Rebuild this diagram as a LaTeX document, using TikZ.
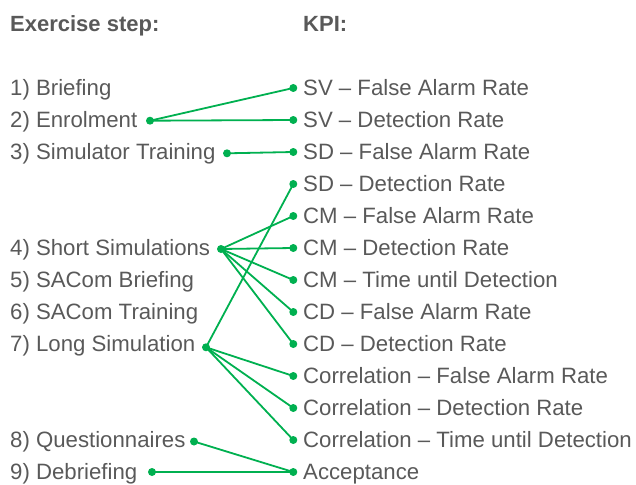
\documentclass[tikz,border=0pt]{standalone}
\usepackage{fontspec}
\setmainfont{Liberation Sans}
\definecolor{txtgray}{HTML}{595959}
\definecolor{linkgreen}{HTML}{00B050}
\begin{document}
\begin{tikzpicture}[x=1pt,y=-1pt,
  lbl/.style={anchor=base west,inner sep=0pt,text=txtgray,font=\fontsize{22.2}{26}\selectfont},
  head/.style={lbl,font=\fontsize{22}{26}\selectfont\bfseries},
  link/.style={draw=linkgreen,line width=1.8pt},
  pin/.style={circle,fill=linkgreen,inner sep=0pt,minimum size=8pt}]
\useasboundingbox (0,0) rectangle (636,484);

% headings
\node[head] (hstep) at (10,31.5) {Exercise step:};
\node[head] (hkpi)  at (303,31.5) {KPI:};

% exercise steps
\node[lbl] (s1) at (10,95.5)  {1) Briefing};
\node[lbl] (s2) at (10,127.5) {2) Enrolment};
\node[lbl] (s3) at (10,159.5) {3) Simulator Training};
\node[lbl] (s4) at (10,255.5) {4) Short Simulations};
\node[lbl] (s5) at (10,287.5) {5) SACom Briefing};
\node[lbl] (s6) at (10,319.5) {6) SACom Training};
\node[lbl] (s7) at (10,351.5) {7) Long Simulation};
\node[lbl] (s8) at (10,447.5) {8) Questionnaires};
\node[lbl] (s9) at (10,479.5) {9) Debriefing};

% KPIs
\node[lbl] (k1)  at (303,95.5)  {SV – False Alarm Rate};
\node[lbl] (k2)  at (303,127.5) {SV – Detection Rate};
\node[lbl] (k3)  at (303,159.5) {SD – False Alarm Rate};
\node[lbl] (k4)  at (303,191.5) {SD – Detection Rate};
\node[lbl] (k5)  at (303,223.5) {CM – False Alarm Rate};
\node[lbl] (k6)  at (303,255.5) {CM – Detection Rate};
\node[lbl] (k7)  at (303,287.5) {CM – Time until Detection};
\node[lbl] (k8)  at (303,319.5) {CD – False Alarm Rate};
\node[lbl] (k9)  at (303,351.5) {CD – Detection Rate};
\node[lbl] (k10) at (303,383.5) {Correlation – False Alarm Rate};
\node[lbl] (k11) at (303,415.5) {Correlation – Detection Rate};
\node[lbl] (k12) at (303,447.5) {Correlation – Time until Detection};
\node[lbl] (k13) at (303,479.5) {Acceptance};

% connection points of the steps
\node[pin] (p2) at (150,120.7) {};
\node[pin] (p3) at (227,153.3) {};
\node[pin] (p4) at (221,249)   {};
\node[pin] (p7) at (206,347.3) {};
\node[pin] (p8) at (194,441.5) {};
\node[pin] (p9) at (152,472)   {};

% connection points of the KPIs
\foreach \i/\y in {1/88,2/120,3/152,4/184,5/216,6/248,7/280,8/312,9/344,10/376,11/408,12/440,13/472}
  \node[pin] (q\i) at (293.3,\y) {};

% links
\draw[link] (p2.center) -- (q1.center);
\draw[link] (p2.center) -- (q2.center);
\draw[link] (p3.center) -- (q3.center);
\foreach \j in {5,6,7,8,9}
  \draw[link] (p4.center) -- (q\j.center);
\foreach \j in {4,10,11,12}
  \draw[link] (p7.center) -- (q\j.center);
\draw[link] (p8.center) -- (q13.center);
\draw[link] (p9.center) -- (q13.center);
\end{tikzpicture}
\end{document}
